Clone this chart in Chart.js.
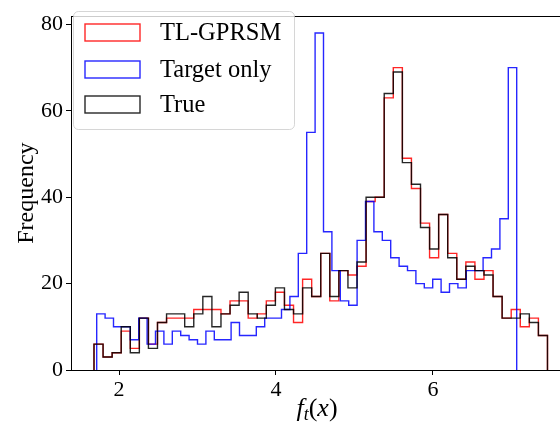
<!DOCTYPE html>
<html><head><meta charset="utf-8">
<script src="https://cdn.jsdelivr.net/npm/chart.js@4.4.0/dist/chart.umd.min.js"></script>
<style>
html,body{margin:0;padding:0;background:#fff;overflow:hidden;width:560px;height:428px}
#wrap{position:relative;width:560px;height:428px}
</style>
</head><body><div id="wrap"><canvas id="c" width="560" height="428"></canvas></div>
<script>
const seriesLabels = ['TL-GPRSM', 'Target only', 'True'];
const seriesColors = ['rgba(255,0,0,0.85)', 'rgba(0,0,255,0.85)', 'rgba(0,0,0,0.85)'];

// histogram counts per bin
const tlCounts = [6,3,4,9,5,12,6,11,12,12, 12,14,14,14,13,16,16,12,13,16, 18,15,11,21,17,27,16,23,22,24, 39,40,63,70,49,42,34,26,36,27, 21,25,21,23,17,12,14,10,12,8];
const targetCounts = [13,12,10,10,7,12,6,9,6,9, 8,7,6,9,7,7,11,8,8,10, 12,12,14,17,27,55,78,32,23,16, 15,30,39,32,30,26,24,23,20,19, 21,18,20,19,23,23,26,28,35,70];
const trueCounts = [6,3,4,10,4,12,5,11,13,13, 10,13,17,10,13,15,18,13,12,15, 19,14,13,19,17,27,17,23,19,25, 40,40,64,69,48,43,33,28,36,26, 21,24,23,22,17,12,12,13,11,8];

// bin layout (first edge, bin width)
const tlBins = [1.6815, 0.11554];
const targetBins = [1.7159, 0.10701];
const trueBins = [1.6815, 0.11554];

const xTicks = [2, 4, 6];
const yTicks = [0, 20, 40, 60, 80];
const xRange = [1.3885, 7.618];
const yRange = [0, 81.9];

function stepPoints(counts, bins) {
  const [start, width] = bins;
  const pts = [{x: start, y: 0}];
  counts.forEach((c, i) => pts.push({x: start + i * width, y: c}));
  pts.push({x: start + counts.length * width, y: 0});
  return pts;
}

const FONT = "'Liberation Serif', 'Times New Roman', serif";
Chart.defaults.font.family = FONT;
Chart.defaults.color = '#000';

const framePlugin = {
  id: 'frame',
  afterDatasetsDraw(chart) {
    const {ctx, chartArea: a} = chart;
    ctx.save();
    // top spine
    ctx.strokeStyle = '#000';
    ctx.lineWidth = 1;
    ctx.beginPath();
    ctx.moveTo(a.left, Math.round(a.top) + 0.5);
    ctx.lineTo(a.right, Math.round(a.top) + 0.5);
    ctx.stroke();

    // legend
    const lx = 73.5, ly = 11.5, lw = 221, lh = 118, r = 5;
    ctx.beginPath();
    ctx.moveTo(lx + r, ly);
    ctx.arcTo(lx + lw, ly, lx + lw, ly + lh, r);
    ctx.arcTo(lx + lw, ly + lh, lx, ly + lh, r);
    ctx.arcTo(lx, ly + lh, lx, ly, r);
    ctx.arcTo(lx, ly, lx + lw, ly, r);
    ctx.closePath();
    ctx.fillStyle = 'rgba(255,255,255,0.8)';
    ctx.fill();
    ctx.strokeStyle = 'rgba(204,204,204,0.8)';
    ctx.stroke();

    const rows = [32.5, 69.5, 104.5];
    chart.data.datasets.forEach((ds, i) => {
      const cy = rows[i];
      ctx.strokeStyle = ds.borderColor;
      ctx.lineWidth = 1.4;
      ctx.strokeRect(85, cy - 8.5, 55, 17);
      ctx.fillStyle = '#000';
      ctx.font = '24.5px ' + FONT;
      ctx.textBaseline = 'middle';
      ctx.textAlign = 'left';
      ctx.fillText(ds.label, 160, cy + 1);
    });

    // x-axis title: f_t(x)
    const cx = 317, by = 416;
    ctx.fillStyle = '#000';
    ctx.textBaseline = 'alphabetic';
    const parts = [
      {t: 'f', f: 'italic 26px ' + FONT, dy: 0},
      {t: 't', f: 'italic 18px ' + FONT, dy: 4},
      {t: '(', f: '26px ' + FONT, dy: 0},
      {t: 'x', f: 'italic 26px ' + FONT, dy: 0},
      {t: ')', f: '26px ' + FONT, dy: 0}
    ];
    let total = 0;
    parts.forEach(p => { ctx.font = p.f; p.w = ctx.measureText(p.t).width; total += p.w; });
    let x = cx - total / 2;
    parts.forEach(p => { ctx.font = p.f; ctx.fillText(p.t, x, by + p.dy); x += p.w; });
    ctx.restore();
  }
};

new Chart(document.getElementById('c').getContext('2d'), {
  type: 'line',
  data: {
    datasets: [
      {label: seriesLabels[0], data: stepPoints(tlCounts, tlBins), borderColor: seriesColors[0], order: 3},
      {label: seriesLabels[1], data: stepPoints(targetCounts, targetBins), borderColor: seriesColors[1], order: 2},
      {label: seriesLabels[2], data: stepPoints(trueCounts, trueBins), borderColor: seriesColors[2], order: 1}
    ].map(d => Object.assign(d, {borderWidth: 1.4, stepped: 'before', pointRadius: 0, fill: false, tension: 0, borderJoinStyle: 'miter'}))
  },
  options: {
    responsive: false,
    animation: false,
    layout: {padding: {left: 0, right: 0, top: 9, bottom: 0}},
    plugins: {legend: {display: false}, tooltip: {enabled: false}},
    scales: {
      x: {
        type: 'linear', min: xRange[0], max: xRange[1],
        afterBuildTicks: s => { s.ticks = xTicks.map(v => ({value: v})); },
        afterFit: s => { s.height = 58; },
        ticks: {font: {size: 22}, padding: 2, maxRotation: 0, autoSkip: false, color: '#000'},
        grid: {display: true, drawOnChartArea: false, drawTicks: true, tickLength: 5, tickColor: '#000', tickWidth: 1},
        border: {display: true, color: '#000', width: 1}
      },
      y: {
        type: 'linear', min: yRange[0], max: yRange[1],
        afterBuildTicks: s => { s.ticks = yTicks.map(v => ({value: v})); },
        afterFit: s => { s.width = 71; },
        ticks: {font: {size: 22}, padding: 3, color: '#000'},
        grid: {display: true, drawOnChartArea: false, drawTicks: true, tickLength: 5, tickColor: '#000', tickWidth: 1},
        border: {display: true, color: '#000', width: 1},
        title: {display: true, text: 'Frequency', font: {size: 24}, padding: {top: 12, bottom: 0}, color: '#000'}
      }
    }
  },
  plugins: [framePlugin]
});
</script>
</body></html>
